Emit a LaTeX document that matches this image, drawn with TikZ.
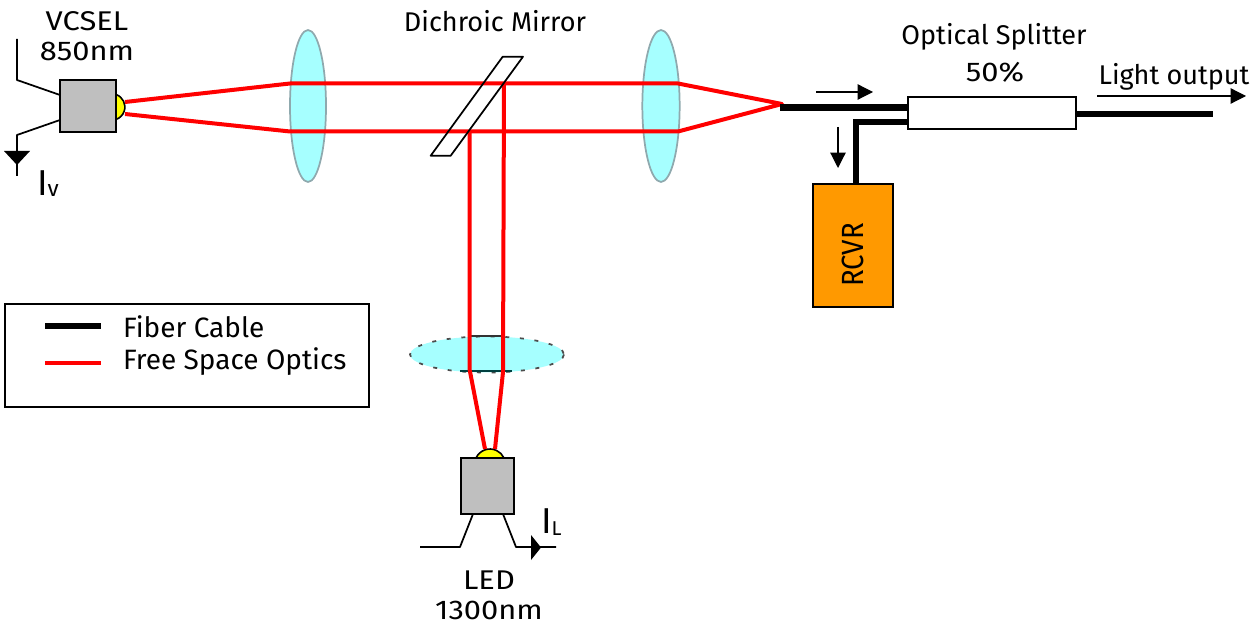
\documentclass[tikz,border=0pt]{standalone}
\usepackage{fontspec}
\setmainfont{Fira Sans}
\newfontfamily\widefam[FakeStretch=1.14]{Fira Sans}
\newfontfamily\slimfam[FakeStretch=0.9]{Fira Sans}
\usetikzlibrary{arrows.meta,shapes.geometric}
\definecolor{lensfill}{HTML}{A6FFFF}
\definecolor{lensedge}{HTML}{8FA9AE}
\definecolor{grayfill}{HTML}{BFBFBF}
\definecolor{rcvrfill}{HTML}{FF9900}
\definecolor{domefill}{HTML}{FFFF00}
\tikzset{
  x=0.75pt,y=-0.75pt,
  wire/.style={draw=black,line width=1.3pt,line join=round},
  beam/.style={draw=red,line width=3pt,line join=round},
  fiber/.style={draw=black,line width=5.2pt,line join=miter},
  thin arrow/.style={draw=black,line width=0.9pt,-{Triangle[length=11.5pt,width=11.5pt]}},
  part/.style={draw=black,line width=1.6pt,fill=grayfill,inner sep=0pt,outer sep=0pt},
  lens/.style={draw=lensedge,line width=1.3pt,fill=lensfill},
  dome/.style={draw=black,line width=1.2pt,fill=domefill},
  label/.style={font=\fontsize{20.3pt}{22pt}\selectfont,inner sep=0pt,outer sep=0pt,text=black},
  keylabel/.style={font=\fontsize{21pt}{23pt}\selectfont,inner sep=0pt,outer sep=0pt,text=black},
  widelabel/.style={font=\fontsize{20.3pt}{22pt}\widefam,inner sep=0pt,outer sep=0pt,text=black},
  mark tri/.style={fill=black,draw=none}
}
\begin{document}
\begin{tikzpicture}
\useasboundingbox (0,0) rectangle (1260,623);
% lenses
\node[lens,ellipse,minimum width=27pt,minimum height=114pt,inner sep=0pt] (lensA) at (308,106) {};
\node[lens,ellipse,minimum width=28pt,minimum height=114pt,inner sep=0pt] (lensB) at (661,106) {};
\fill[lensfill] (487,354.5) ellipse [x radius=77,y radius=18];
\draw[black!70,line width=1.3pt,dash pattern=on 3pt off 8pt] (487,354.5) ellipse [x radius=77,y radius=18];
\coordinate (lensTopL) at (470,336.5);
\coordinate (lensTopR) at (503,336.5);
\coordinate (lensBotL) at (460,371.5);
\coordinate (lensBotR) at (512,371.5);
\draw[black!80,line width=1.5pt] (lensTopL) -- (lensTopR);
\draw[black!50!teal,line width=1.5pt] (lensBotL) -- (lensBotR);
% VCSEL
\path[dome] (116,94.5) arc [start angle=-71,end angle=71,radius=13.2] -- cycle;
\node[part,minimum width=41.5pt,minimum height=39pt] (vcsel) at (88,106) {};
% LED
\path[dome] (476,458) arc [start angle=-155.4,end angle=-24.6,radius=15.4] -- cycle;
\node[part,minimum width=39.6pt,minimum height=41.6pt] (led) at (487.3,486) {};
% beams
\coordinate (vA) at (125,102);
\coordinate (vB) at (125,114);
\coordinate (lAt) at (290,83.5);
\coordinate (lAb) at (290,131.5);
\coordinate (lBt) at (678,83.5);
\coordinate (lBb) at (678,131.5);
\coordinate (focus) at (782,104);
\coordinate (mirT) at (504,83.5);
\coordinate (mirB) at (469.5,131.5);
\coordinate (lcL) at (469.5,369);
\coordinate (lcR) at (503,372);
\coordinate (ledL) at (485,449);
\coordinate (ledR) at (495,449);
\draw[beam] (vA) -- (lAt) -- (lBt) -- (focus) -- (lBb) -- (lAb) -- (vB);
\draw[beam] (mirT) -- (lcR) -- (ledR);
\draw[beam] (mirB) -- (lcL) -- (ledL);
% mirror
\coordinate (m1) at (502.7,56.7);
\coordinate (m2) at (523,56.7);
\coordinate (m3) at (450.7,155.7);
\coordinate (m4) at (430.7,155.7);
\draw[wire] (m1) -- (m2) -- (m3) -- (m4) -- cycle;
% VCSEL leads
\coordinate (vt0) at (17,39);
\coordinate (vt1) at (17,80);
\coordinate (vt2) at (60,95);
\coordinate (vb2) at (60,120);
\coordinate (vb1) at (17,135);
\coordinate (vb0) at (17,176);
\draw[wire] (vt0) -- (vt1) -- (vt2);
\draw[wire] (vb2) -- (vb1) -- (vb0);
\fill[mark tri] (4,151) -- (30,151) -- (17,165) -- cycle;
% LED leads
\coordinate (lt0) at (420,547);
\coordinate (lt1) at (460,547);
\coordinate (lt2) at (473,514);
\coordinate (lr2) at (503,514);
\coordinate (lr1) at (516,547);
\coordinate (lr0) at (556,547);
\draw[wire] (lt0) -- (lt1) -- (lt2);
\draw[wire] (lr2) -- (lr1) -- (lr0);
\fill[mark tri] (531,535) -- (541,547.5) -- (531,560) -- cycle;
% splitter, receiver
\coordinate (fibStart) at (780,107.5);
\coordinate (fibOut) at (1213,114);
\coordinate (fibCorner) at (856,122);
\node[draw=black,line width=1.6pt,fill=white,minimum width=126pt,minimum height=24pt,inner sep=0pt,outer sep=0pt] (split) at (992,112.7) {};
\node[draw=black,line width=1.2pt,fill=rcvrfill,minimum width=60pt,minimum height=92pt,inner sep=0pt,outer sep=0pt] (rcvr) at (853,245.5) {};
\node[inner sep=0pt,outer sep=0pt,font=\fontsize{23pt}{24pt}\slimfam,rotate=90] (rcvrtxt) at (853,255) {RCVR};
\draw[fiber] (fibStart) -- (fibStart -| split.west);
\draw[fiber] (split.east |- fibOut) -- (fibOut);
\draw[fiber] (fibCorner -| split.west) -- (fibCorner) -- (fibCorner |- rcvr.north);
% direction arrows
\coordinate (a1) at (816,92);
\coordinate (a2) at (873,92);
\coordinate (a3) at (838,127);
\coordinate (a4) at (838,168);
\coordinate (a5) at (1097,96);
\coordinate (a6) at (1246,96);
\draw[thin arrow] (a1) -- (a2);
\draw[thin arrow] (a3) -- (a4);
\draw[thin arrow] (a5) -- (a6);
% legend
\node[draw=black,line width=1.1pt,fill=white,minimum width=273pt,minimum height=77pt,inner sep=0pt,outer sep=0pt] (legend) at (187,355.5) {};
\coordinate (k1) at (45,326);
\coordinate (k2) at (101,326);
\coordinate (k3) at (45,363);
\coordinate (k4) at (101,363);
\draw[fiber] (k1) -- (k2);
\draw[beam] (k3) -- (k4);
% labels
\node[widelabel] (t1) at (87,21) {VCSEL};
\node[widelabel] (t2) at (87,51) {850nm};
\node[label,anchor=base west,font=\fontsize{27pt}{28pt}\selectfont] (t3) at (37,196) {I\raisebox{-0.7pt}{\fontsize{17pt}{18pt}\selectfont v}};
\node[label] (t4) at (495,21) {Dichroic Mirror};
\node[label] (t5) at (994,37) {Optical Splitter};
\node[widelabel] (t6) at (995,72) {50\%};
\node[label] (t7) at (1174,77) {Light output};
\node[keylabel,anchor=west] (t8) at (123,327) {Fiber Cable};
\node[keylabel,anchor=west] (t9) at (123,362) {Free Space Optics};
\node[label,anchor=base west,font=\fontsize{27pt}{28pt}\selectfont] (t10) at (541,533) {I\raisebox{-2pt}{\fontsize{15pt}{16pt}\selectfont L}};
\node[widelabel] (t11) at (489,580) {LED};
\node[widelabel] (t12) at (489,610) {1300nm};
\end{tikzpicture}
\end{document}
